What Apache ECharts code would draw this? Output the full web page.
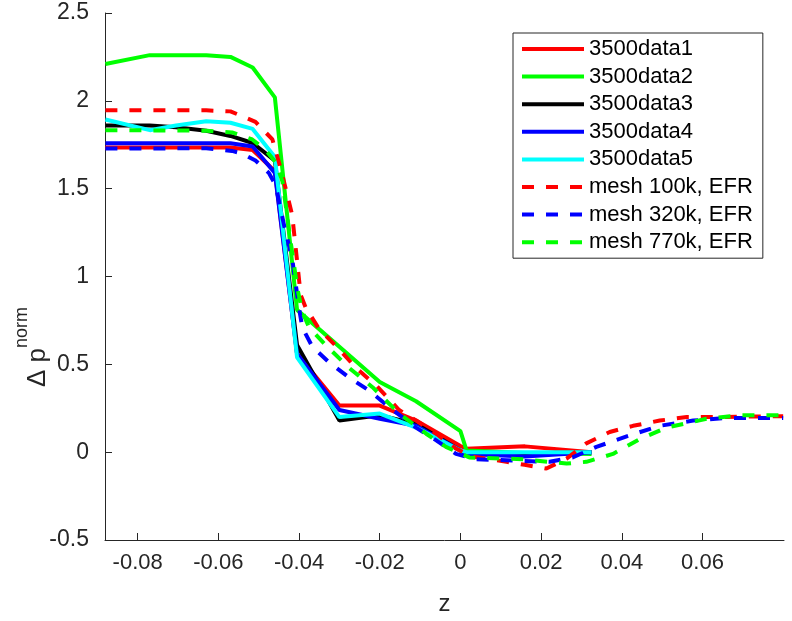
<!DOCTYPE html>
<html>
<head>
<meta charset="utf-8">
<script src="https://cdn.jsdelivr.net/npm/echarts@6/dist/echarts.min.js"></script>
<style>
  html, body { margin: 0; padding: 0; background: #fff; }
  #chart { width: 792px; height: 621px; }
</style>
</head>
<body>
<div id="chart"></div>
<script>
// solid curves (3500 data) share the same z positions
const zSolid = [-0.088, -0.077, -0.0705, -0.063, -0.057, -0.0515, -0.046, -0.0405, -0.030, -0.020, -0.011, 0.0, 0.0015, 0.016, 0.0325];
const data1 = [1.734, 1.734, 1.734, 1.734, 1.734, 1.72, 1.60, 0.56, 0.265, 0.265, 0.18, 0.035, 0.02, 0.033, 0.0];
const data2 = [2.21, 2.26, 2.26, 2.26, 2.25, 2.19, 2.02, 0.81, 0.60, 0.40, 0.29, 0.12, 0.01, -0.005, -0.01];
const data3 = [1.86, 1.86, 1.85, 1.83, 1.80, 1.76, 1.66, 0.61, 0.18, 0.21, 0.16, 0.01, -0.01, -0.01, 0.0];
const data4 = [1.758, 1.758, 1.758, 1.758, 1.758, 1.74, 1.59, 0.56, 0.24, 0.19, 0.15, 0.01, -0.01, -0.025, 0.0];
const data5 = [1.894, 1.833, 1.86, 1.884, 1.875, 1.84, 1.68, 0.54, 0.20, 0.22, 0.14, 0.01, 0.0, 0.0, 0.0];

// EFR meshes
const z100k = [-0.088, -0.077, -0.063, -0.057, -0.0549, -0.0508, -0.0466, -0.0445, -0.0417, -0.0396, -0.0383, -0.035, -0.030, -0.0259, -0.0209, -0.0152, -0.011, -0.006, -0.0011, 0.003, 0.0114, 0.0159, 0.0213, 0.0263, 0.0312, 0.037, 0.0428, 0.0494, 0.0561, 0.0626, 0.08];
const v100k = [1.946, 1.946, 1.946, 1.94, 1.92, 1.88, 1.78, 1.61, 1.35, 0.895, 0.82, 0.70, 0.585, 0.48, 0.38, 0.24, 0.18, 0.105, 0.02, -0.025, -0.055, -0.072, -0.093, -0.037, 0.05, 0.115, 0.15, 0.18, 0.2, 0.2, 0.205];
const z320k = [-0.088, -0.063, -0.0566, -0.0541, -0.0508, -0.0475, -0.0458, -0.0437, -0.0417, -0.040, -0.0392, -0.0367, -0.0325, -0.0276, -0.0226, -0.0168, -0.011, -0.006, -0.0011, 0.0039, 0.0154, 0.0221, 0.0278, 0.0337, 0.0412, 0.0494, 0.0577, 0.066, 0.08];
const v320k = [1.728, 1.73, 1.715, 1.70, 1.66, 1.59, 1.52, 1.29, 1.10, 0.82, 0.71, 0.60, 0.51, 0.425, 0.35, 0.24, 0.14, 0.067, -0.01, -0.04, -0.05, -0.055, -0.03, 0.03, 0.09, 0.15, 0.18, 0.195, 0.195];
const z770k = [-0.088, -0.063, -0.0566, -0.0516, -0.0483, -0.0458, -0.0441, -0.0421, -0.0404, -0.0392, -0.0375, -0.0334, -0.0276, -0.0218, -0.0152, -0.0085, -0.0036, 0.0022, 0.0154, 0.0263, 0.0312, 0.0378, 0.0445, 0.0511, 0.061, 0.0693, 0.08];
const v770k = [1.833, 1.83, 1.82, 1.78, 1.72, 1.65, 1.54, 1.20, 0.93, 0.80, 0.71, 0.61, 0.48, 0.37, 0.22, 0.105, 0.03, -0.03, -0.04, -0.065, -0.055, -0.01, 0.075, 0.14, 0.19, 0.21, 0.21];

const xTicks = [-0.08, -0.06, -0.04, -0.02, 0, 0.02, 0.04, 0.06];

const pairs = (xs, ys) => xs.map((x, i) => [x, ys[i]]);
const axisColor = '#262626';
const font = 'Liberation Sans, Arial, Helvetica, sans-serif';

const solid = (name, color, ys) => ({
  name, type: 'line', data: pairs(zSolid, ys), symbol: 'none', showSymbol: false,
  lineStyle: { color, width: 4 }, itemStyle: { color },
});
const dashed = (name, color, xs, ys) => ({
  name, type: 'line', data: pairs(xs, ys), symbol: 'none', showSymbol: false,
  lineStyle: { color, width: 4, type: [12, 12] }, itemStyle: { color },
});

const chart = echarts.init(document.getElementById('chart'));
chart.setOption({
  animation: false,
  backgroundColor: '#fff',
  textStyle: { fontFamily: font },
  grid: { left: 105, right: 8, top: 13, bottom: 77 },
  xAxis: {
    type: 'value',
    min: -0.0881,
    max: 0.0802,
    name: 'z',
    nameLocation: 'middle',
    nameGap: 52,
    nameTextStyle: { fontSize: 24, color: '#262626', fontFamily: font },
    axisLine: { show: true, onZero: false, lineStyle: { color: axisColor, width: 1 } },
    axisTick: { show: true, inside: true, length: 7, customValues: xTicks, lineStyle: { color: axisColor } },
    axisLabel: {
      customValues: xTicks,
      fontSize: 22, color: '#262626', margin: 12, fontFamily: font,
      formatter: v => String(+Number(v).toFixed(2)),
    },
    splitLine: { show: false },
  },
  yAxis: {
    type: 'value',
    min: -0.5,
    max: 2.5,
    interval: 0.5,
    axisLine: { show: true, onZero: false, lineStyle: { color: axisColor, width: 1 } },
    axisTick: { show: true, inside: true, length: 7, lineStyle: { color: axisColor } },
    axisLabel: { fontSize: 23, color: '#262626', margin: 16, fontFamily: font },
    splitLine: { show: false },
  },
  legend: {
    orient: 'vertical',
    left: 513,
    top: 33,
    itemWidth: 62,
    itemHeight: 14,
    itemGap: 5.6,
    padding: [5, 10, 5, 7],
    backgroundColor: '#fff',
    borderColor: '#262626',
    borderWidth: 1,
    borderRadius: 0,
    itemStyle: { opacity: 0 },
    lineStyle: { width: 4 },
    textStyle: { fontSize: 22, lineHeight: 22, color: '#000', fontFamily: font },
  },
  graphic: [{
    type: 'text',
    x: 32,
    y: 347,
    rotation: Math.PI / 2,
    style: {
      text: '{a|Δ p}{b|norm}',
      align: 'center',
      verticalAlign: 'middle',
      rich: {
        a: { fontSize: 26, fill: '#262626', fontFamily: font, verticalAlign: 'bottom', lineHeight: 38 },
        b: { fontSize: 18, fill: '#262626', fontFamily: font, verticalAlign: 'top', lineHeight: 38 },
      },
    },
  }],
  series: [
    solid('3500data1', '#ff0000', data1),
    solid('3500data2', '#00ff00', data2),
    solid('3500data3', '#000000', data3),
    solid('3500data4', '#0000ff', data4),
    solid('3500data5', '#00ffff', data5),
    dashed('mesh 100k, EFR', '#ff0000', z100k, v100k),
    dashed('mesh 320k, EFR', '#0000ff', z320k, v320k),
    dashed('mesh 770k, EFR', '#00ff00', z770k, v770k),
  ],
});
</script>
</body>
</html>
